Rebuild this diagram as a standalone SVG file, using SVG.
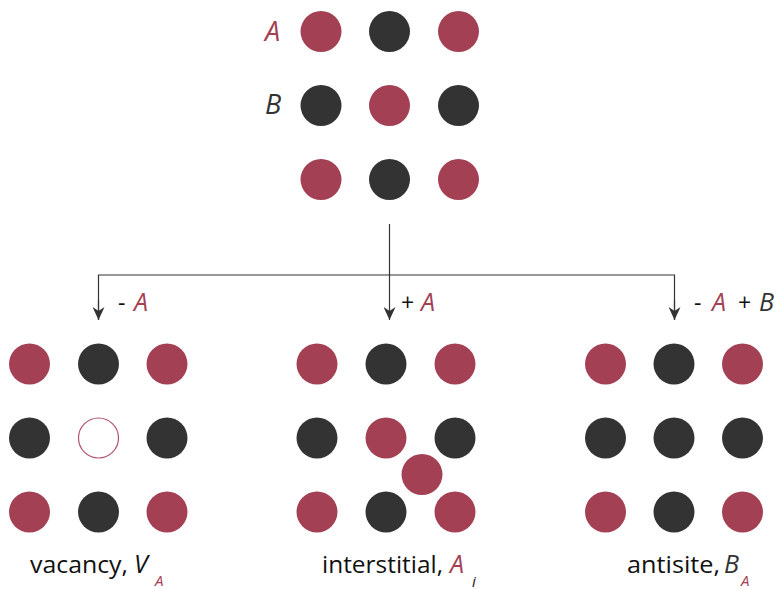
<svg xmlns="http://www.w3.org/2000/svg" width="779" height="590" viewBox="0 0 779 590">
  <style>
    .a { fill: #A34053; }
    .b { fill: #333333; }
    .empty { fill: #ffffff; stroke: #B2526A; stroke-width: 1.2; }
    .lbl { font-family: "Open Sans", "Liberation Sans", sans-serif; font-size: 23px; fill: #111111; }
    .it { font-style: italic; font-size: 25px; }
    .big { font-size: 27px; }
    .red { fill: #A34053; }
    .dark { fill: #333333; }
    .sub { font-family: "Open Sans", "Liberation Sans", sans-serif; font-size: 15px; font-style: italic; }
    .wire { fill: none; stroke: #333333; stroke-width: 1.2; }
  </style>
  <defs>
    <marker id="arrow" viewBox="0 0 13 12" refX="13" refY="6" markerWidth="13" markerHeight="12" markerUnits="userSpaceOnUse" orient="auto">
      <path d="M0,0 L13,6 L0,12 L4,6 Z" fill="#333333"/>
    </marker>
  </defs>
  <rect width="779" height="590" fill="#ffffff"/>

  <!-- perfect lattice -->
  <g id="perfect">
    <text class="lbl it big red" x="265" y="40.5">A</text>
    <text class="lbl it big dark" x="265" y="114">B</text>
    <circle class="a" cx="321" cy="31.5" r="20.5"/>
    <circle class="b" cx="389.5" cy="31.5" r="20.5"/>
    <circle class="a" cx="458.5" cy="31.5" r="20.5"/>
    <circle class="b" cx="321" cy="105.5" r="20.5"/>
    <circle class="a" cx="389.5" cy="105.5" r="20.5"/>
    <circle class="b" cx="458.5" cy="105.5" r="20.5"/>
    <circle class="a" cx="321" cy="179.5" r="20.5"/>
    <circle class="b" cx="389.5" cy="179.5" r="20.5"/>
    <circle class="a" cx="458.5" cy="179.5" r="20.5"/>
  </g>

  <!-- connectors -->
  <g id="connectors">
    <line class="wire" x1="389.5" y1="224" x2="389.5" y2="320" marker-end="url(#arrow)"/>
    <polyline class="wire" points="98.5,320 98.5,275 674.5,275 674.5,320"/>
    <line class="wire" x1="98.5" y1="300" x2="98.5" y2="320" marker-end="url(#arrow)"/>
    <line class="wire" x1="674.5" y1="300" x2="674.5" y2="320" marker-end="url(#arrow)"/>
    <text class="lbl" x="118" y="311">-</text>
    <text class="lbl it red" x="134" y="311">A</text>
    <text class="lbl" x="401" y="311">+</text>
    <text class="lbl it red" x="421" y="311">A</text>
    <text class="lbl" x="694" y="311">-</text>
    <text class="lbl it red" x="712" y="311">A</text>
    <text class="lbl" x="738" y="311">+</text>
    <text class="lbl it dark" x="759" y="311">B</text>
  </g>

  <!-- vacancy -->
  <g id="vacancy">
    <circle class="a" cx="29.5" cy="364" r="20.5"/>
    <circle class="b" cx="98.5" cy="364" r="20.5"/>
    <circle class="a" cx="167" cy="364" r="20.5"/>
    <circle class="b" cx="29.5" cy="438" r="20.5"/>
    <circle class="empty" cx="98.5" cy="438" r="20"/>
    <circle class="b" cx="167" cy="438" r="20.5"/>
    <circle class="a" cx="29.5" cy="512" r="20.5"/>
    <circle class="b" cx="98.5" cy="512" r="20.5"/>
    <circle class="a" cx="167" cy="512" r="20.5"/>
    <text class="lbl" x="30" y="573" textLength="98" lengthAdjust="spacingAndGlyphs">vacancy,</text>
    <text class="lbl it" x="134" y="573">V</text>
    <text class="sub red" x="155" y="586">A</text>
  </g>

  <!-- interstitial -->
  <g id="interstitial">
    <circle class="a" cx="317" cy="364" r="20.5"/>
    <circle class="b" cx="386" cy="364" r="20.5"/>
    <circle class="a" cx="455" cy="364" r="20.5"/>
    <circle class="b" cx="317" cy="438" r="20.5"/>
    <circle class="a" cx="386" cy="438" r="20.5"/>
    <circle class="b" cx="455" cy="438" r="20.5"/>
    <circle class="a" cx="317" cy="512" r="20.5"/>
    <circle class="b" cx="386" cy="512" r="20.5"/>
    <circle class="a" cx="455" cy="512" r="20.5"/>
    <circle class="a" cx="422" cy="474.5" r="20.5"/>
    <text class="lbl" x="322" y="573" textLength="121" lengthAdjust="spacingAndGlyphs">interstitial,</text>
    <text class="lbl it red" x="450" y="573">A</text>
    <text class="sub" x="472" y="587" fill="#111111">i</text>
  </g>

  <!-- antisite -->
  <g id="antisite">
    <circle class="a" cx="605.5" cy="364" r="20.5"/>
    <circle class="b" cx="674" cy="364" r="20.5"/>
    <circle class="a" cx="742.5" cy="364" r="20.5"/>
    <circle class="b" cx="605.5" cy="438" r="20.5"/>
    <circle class="b" cx="674" cy="438" r="20.5"/>
    <circle class="b" cx="742.5" cy="438" r="20.5"/>
    <circle class="a" cx="605.5" cy="512" r="20.5"/>
    <circle class="b" cx="674" cy="512" r="20.5"/>
    <circle class="a" cx="742.5" cy="512" r="20.5"/>
    <text class="lbl" x="627" y="573" textLength="93" lengthAdjust="spacingAndGlyphs">antisite,</text>
    <text class="lbl it dark" x="724" y="573">B</text>
    <text class="sub red" x="741" y="586">A</text>
  </g>
</svg>
